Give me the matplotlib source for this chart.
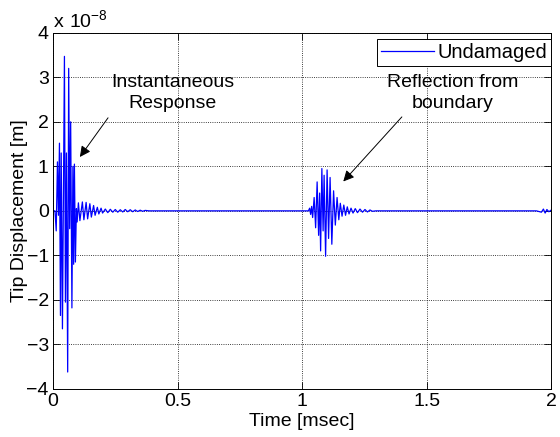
import matplotlib
matplotlib.use("Agg")
import matplotlib.pyplot as plt
import numpy as np

plt.rcParams['font.family'] = ['Liberation Sans', 'DejaVu Sans']
plt.rcParams['mathtext.fontset'] = 'custom'
plt.rcParams['mathtext.rm'] = 'Liberation Sans'

# tip displacement of the undamaged beam, in units of 1e-8 m, time in msec
# incident burst at the tip
t_burst = [0.000, 0.008, 0.013, 0.018, 0.022, 0.026, 0.030, 0.033, 0.038,
           0.046, 0.050, 0.054, 0.059, 0.063, 0.067, 0.071, 0.076, 0.080,
           0.083, 0.086, 0.090, 0.094, 0.097]
u_burst = [0.00, 0.00, -0.45, 1.10, -0.10, 1.52, -2.35, 1.30, -2.65,
           3.47, -2.05, 1.30, -3.62, 3.20, -0.40, 2.00, -2.18, 1.00,
           -1.20, 1.05, -1.15, 0.05, -0.25]

# ringing after the burst
t_ring = [0.102, 0.108, 0.118, 0.124, 0.133, 0.139, 0.148, 0.154, 0.163,
          0.169, 0.178, 0.184, 0.193, 0.199, 0.210, 0.220, 0.230, 0.240,
          0.250, 0.260, 0.270, 0.280, 0.290, 0.300, 0.310, 0.320, 0.330,
          0.340, 0.350, 0.360, 0.370, 0.385]
u_ring = [0.18, -0.22, 0.20, -0.20, 0.19, -0.18, 0.16, -0.14, 0.12,
          -0.10, 0.08, -0.07, 0.06, -0.05, 0.04, -0.04, 0.035, -0.03,
          0.03, -0.03, 0.025, -0.025, 0.03, -0.02, 0.025, -0.02, 0.02,
          -0.015, 0.015, -0.01, 0.01, 0.00]

# wave reflected from the free boundary
t_refl = [1.000, 1.025, 1.030, 1.034, 1.038, 1.042, 1.048, 1.054, 1.060,
          1.066, 1.070, 1.074, 1.079, 1.084, 1.088, 1.094, 1.100, 1.106,
          1.112, 1.119, 1.126, 1.133, 1.140, 1.147, 1.153, 1.160, 1.167,
          1.174, 1.181, 1.188, 1.196, 1.204, 1.213, 1.222, 1.232, 1.242,
          1.252, 1.262, 1.272, 1.282, 1.295]
u_refl = [0.00, 0.00, 0.06, -0.08, 0.10, -0.15, 0.30, -0.38, 0.65,
          -0.55, 0.40, -0.90, 0.95, -0.45, 0.80, -1.02, 0.92, -0.62,
          0.75, -0.75, 0.45, -0.32, 0.30, -0.20, 0.17, -0.12, 0.13,
          -0.10, 0.09, -0.07, 0.06, -0.05, 0.05, -0.04, 0.04, -0.03,
          0.03, -0.025, 0.02, -0.01, 0.00]

# start of the second reflection
t_end = [1.940, 1.960, 1.968, 1.975, 1.982, 1.990, 2.000]
u_end = [0.00, -0.03, 0.04, -0.05, 0.03, -0.02, 0.02]

t = np.array(t_burst + t_ring + t_refl + t_end)
u = np.array(u_burst + u_ring + u_refl + u_end)

fig = plt.figure(figsize=(5.6, 4.37), dpi=100)
ax = fig.add_axes([0.0946, 0.110, 0.890, 0.815])

ax.plot(t, u, color="#0000ff", linewidth=0.9, label="Undamaged")

ax.set_xlim(0, 2)
ax.set_ylim(-4, 4)
ax.set_xticks([0, 0.5, 1, 1.5, 2])
ax.set_xticklabels(["0", "0.5", "1", "1.5", "2"])
ax.set_yticks(range(-4, 5))
ax.tick_params(direction="in", length=5, width=0.6, top=True, right=True,
               labelsize=14, pad=3)
ax.grid(True, linestyle=":", color="black", linewidth=0.6)
for s in ax.spines.values():
    s.set_linewidth(0.7)

ax.set_xlabel("Time [msec]", fontsize=14, labelpad=2)
ax.set_ylabel("Tip Displacement [m]", fontsize=14, labelpad=-1)
ax.text(0.0, 1.005, r"$\mathregular{x\ 10^{-8}}$", transform=ax.transAxes,
        fontsize=14, ha="left", va="bottom")

# text labels and their arrows
ax.text(0.48, 2.64, "Instantaneous\nResponse", fontsize=14,
        ha="center", va="center", linespacing=1.3)
ax.annotate("", xy=(0.108, 1.21), xytext=(0.221, 2.09),
            arrowprops=dict(arrowstyle="-|>", color="black", lw=0.7,
                            mutation_scale=16, shrinkA=0, shrinkB=0))
ax.text(1.604, 2.64, "Reflection from\nboundary", fontsize=14,
        ha="center", va="center", linespacing=1.3)
ax.annotate("", xy=(1.165, 0.66), xytext=(1.40, 2.11),
            arrowprops=dict(arrowstyle="-|>", color="black", lw=0.7,
                            mutation_scale=16, shrinkA=0, shrinkB=0))

leg = ax.legend(loc="upper right", bbox_to_anchor=(1.0, 0.983),
                fontsize=14.5, fancybox=False, edgecolor="black", framealpha=1,
                borderaxespad=0.0, borderpad=0.2, handlelength=2.6,
                handletextpad=0.2)
leg.get_frame().set_linewidth(0.7)

fig.savefig("out.png", dpi=100)
